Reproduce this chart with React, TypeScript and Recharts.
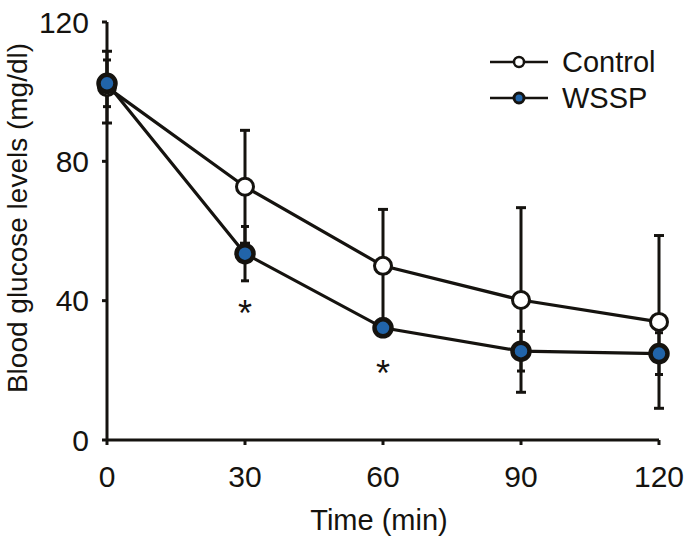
import React from 'react';
import {
  ComposedChart,
  Line,
  Scatter,
  XAxis,
  YAxis,
  ErrorBar,
  Legend,
} from 'recharts';

const timePoints = [0, 30, 60, 90, 120];
const controlMean = [101.3, 72.7, 50.0, 40.2, 33.9];
const controlSd = [10.3, 16.2, 16.2, 26.5, 24.8];
const wsspMean = [102.4, 53.5, 32.2, 25.5, 24.8];
const wsspSd = [6.7, 7.8, 2.5, 5.7, 6.0];

const xTicks = [0, 30, 60, 90, 120];
const yTicks = [0, 40, 80, 120];

const sigTimes = [30, 60];
const sigLevels = [38.7, 21.5];

const seriesNames = ['Control', 'WSSP'];

const INK = '#15130f';
const BLUE = '#2164a9';
const FONT = '"Liberation Sans", Arial, Helvetica, sans-serif';

const rows = timePoints.map((t, i) => ({
  time: t,
  control: controlMean[i],
  controlSd: controlSd[i],
  wssp: wsspMean[i],
  wsspSd: wsspSd[i],
}));

const sigRows = sigTimes.map((t, i) => ({ time: t, sig: sigLevels[i] }));

const Asterisk = (props: any) => {
  const { cx, cy } = props;
  if (cx == null || cy == null) return null;
  return (
    <text x={cx} y={cy + 21} textAnchor="middle" fontSize={36} fontFamily={FONT} fill={INK}>
      *
    </text>
  );
};

const LegendBox = () => (
  <svg width={200} height={80}>
    {seriesNames.map((name, i) => {
      const y = 22 + i * 36;
      const filled = i === 1;
      return (
        <g key={name}>
          <line x1={10} x2={68} y1={y} y2={y} stroke={INK} strokeWidth={2.5} />
          <circle cx={39} cy={y} r={5} fill={filled ? BLUE : '#fff'} stroke={INK} strokeWidth={filled ? 3 : 2.5} />
          <text x={82} y={y + 10} fontSize={29} fontFamily={FONT} fill={INK}>
            {name}
          </text>
        </g>
      );
    })}
  </svg>
);

const YLabel = () => {
  return (
    <text
      x={27}
      y={218}
      transform="rotate(-90, 27, 218)"
      textAnchor="middle"
      fontSize={28}
      fontFamily={FONT}
      fill={INK}
    >
      Blood glucose levels (mg/dl)
    </text>
  );
};

const XLabel = (props: any) => {
  const vb = props.viewBox || {};
  const cx = (vb.x ?? 107) + (vb.width ?? 552) / 2 - 4;
  return (
    <text x={cx} y={530} textAnchor="middle" fontSize={29} fontFamily={FONT} fill={INK}>
      Time (min)
    </text>
  );
};

export default function App() {
  return (
    <div style={{ position: 'absolute', left: 0, top: 0, width: 689, height: 538, background: '#fff' }}>
      <ComposedChart
        width={689}
        height={538}
        data={rows}
        margin={{ top: 22, right: 30, bottom: 0, left: 0 }}
      >
        <XAxis
          dataKey="time"
          type="number"
          domain={[0, 120]}
          ticks={xTicks}
          height={98}
          tickSize={5}
          tickMargin={21}
          axisLine={{ stroke: INK, strokeWidth: 3 }}
          tickLine={{ stroke: INK, strokeWidth: 3 }}
          tick={{ fill: INK, fontSize: 30, fontFamily: FONT }}
          label={<XLabel />}
        />
        <YAxis
          type="number"
          domain={[0, 120]}
          ticks={yTicks}
          width={107}
          tickSize={5}
          tickMargin={13}
          axisLine={{ stroke: INK, strokeWidth: 3 }}
          tickLine={{ stroke: INK, strokeWidth: 3 }}
          tick={{ fill: INK, fontSize: 30, fontFamily: FONT }}
          label={<YLabel />}
        />
        <Legend
          layout="horizontal"
          verticalAlign="middle"
          align="center"
          content={<LegendBox />}
          wrapperStyle={{ top: 40, left: 480, width: 200, height: 80 }}
        />
        <Line
          dataKey="control"
          name="Control"
          type="linear"
          stroke={INK}
          strokeWidth={3.2}
          isAnimationActive={false}
          dot={{ r: 8.5, fill: '#fff', stroke: INK, strokeWidth: 3 }}
          activeDot={false}
        >
          <ErrorBar dataKey="controlSd" direction="y" width={5} stroke={INK} strokeWidth={3} isAnimationActive={false} />
        </Line>
        <Line
          dataKey="wssp"
          name="WSSP"
          type="linear"
          stroke={INK}
          strokeWidth={3.2}
          isAnimationActive={false}
          dot={{ r: 8.5, fill: BLUE, stroke: INK, strokeWidth: 4.5 }}
          activeDot={false}
        >
          <ErrorBar dataKey="wsspSd" direction="y" width={4} stroke={INK} strokeWidth={3} isAnimationActive={false} />
        </Line>
        <Scatter data={sigRows} dataKey="sig" shape={<Asterisk />} isAnimationActive={false} legendType="none" />
      </ComposedChart>
    </div>
  );
}
